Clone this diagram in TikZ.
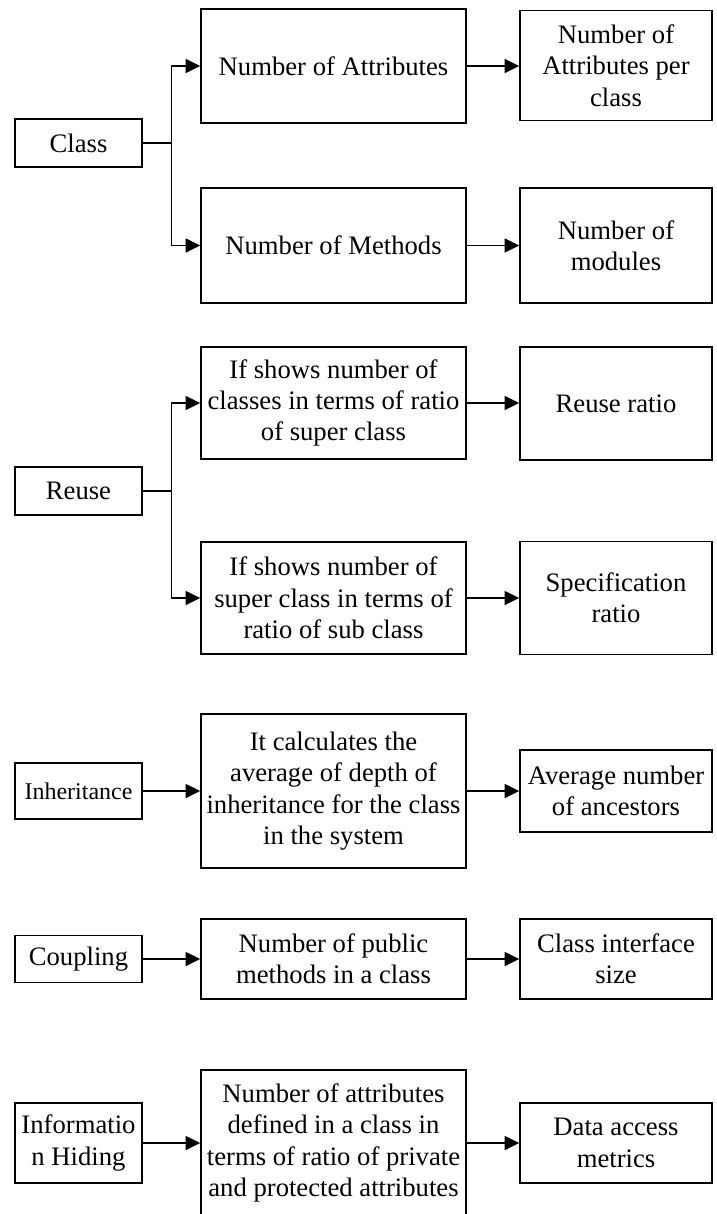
\documentclass[tikz,border=0pt]{standalone}
\usepackage{fontspec}
\setmainfont{Liberation Serif}
\usetikzlibrary{arrows.meta}
\tikzset{
  box/.style={draw, line width=1.1pt, align=center, inner sep=1pt,
    font=\fontsize{20}{23.5}\selectfont},
  lbox/.style={box, minimum width=95.25pt},
  mbox/.style={box, minimum width=198.75pt},
  rbox/.style={box, minimum width=144pt},
  link/.style={line width=1.1pt, -{Triangle[length=11pt,width=10.5pt]}},
}
\begin{document}
\begin{tikzpicture}[x=0.75pt,y=0.75pt,yscale=-1,xscale=1]
\useasboundingbox (0,0) rectangle (717,1214);

% Class
\node [lbox, minimum height=36pt] (cls) at (78.5,143) {Class};
\node [mbox, minimum height=85.5pt] (nattr) at (333.5,66) {Number of Attributes};
\node [rbox, minimum height=82.5pt] (attrper) at (616,65.5) {Number of\\Attributes per\\class};
\node [mbox, minimum height=86.25pt] (nmeth) at (333.5,245.5) {Number of Methods};
\node [rbox, minimum height=86.25pt] (nmod) at (616,245.5) {Number of\\modules};

% Reuse
\node [lbox, minimum height=36pt] (reuse) at (78.5,491) {Reuse};
\node [mbox, minimum height=84pt] (supcls) at (333.5,403) {If shows number of\\classes in terms of ratio\\of super class};
\node [rbox, minimum height=84.75pt] (reuserat) at (616,403.5) {Reuse ratio};
\node [mbox, minimum height=84pt] (subcls) at (333.5,598) {If shows number of\\super class in terms of\\ratio of sub class};
\node [rbox, minimum height=84.75pt] (specrat) at (616,598) {Specification\\ratio};

% Inheritance
\node [lbox, minimum height=42pt, font=\fontsize{18}{21}\selectfont] (inh) at (78.5,791) {Inheritance};
\node [mbox, minimum height=115.5pt] (depth) at (333.5,791) {It calculates the\\average of depth of\\inheritance for the class\\in the system};
\node [rbox, minimum height=61.5pt] (ances) at (616,791) {Average number\\of ancestors};

% Coupling
\node [lbox, minimum height=35.25pt] (coup) at (78.5,959) {Coupling};
\node [mbox, minimum height=60pt] (pubmeth) at (333.5,959) {Number of public\\methods in a class};
\node [rbox, minimum height=60pt] (iface) at (616,959) {Class interface\\size};

% Information Hiding
\node [lbox, minimum height=60pt] (info) at (78.5,1143) {Informatio\\n Hiding};
\node [mbox, minimum height=109.5pt] (privattr) at (333.5,1143) {Number of attributes\\defined in a class in\\terms of ratio of private\\and protected attributes};
\node [rbox, minimum height=60pt] (dataacc) at (616,1143) {Data access\\metrics};

% connectors
\draw [line width=1.1pt] (cls.east) -- ++(29,0) coordinate (clsfork);
\draw [link] (clsfork) |- (nattr.west);
\draw [link] (clsfork) |- (nmeth.west);
\draw [line width=1.1pt] (reuse.east) -- ++(29,0) coordinate (reusefork);
\draw [link] (reusefork) |- (supcls.west);
\draw [link] (reusefork) |- (subcls.west);
\draw [link] (inh) -- (depth);
\draw [link] (coup) -- (pubmeth);
\draw [link] (info) -- (privattr);

\draw [link] (nattr) -- (attrper.west |- nattr);
\draw [link] (nmeth) -- (nmod);
\draw [link] (supcls) -- (reuserat.west |- supcls);
\draw [link] (subcls) -- (specrat.west |- subcls);
\draw [link] (depth) -- (ances);
\draw [link] (pubmeth) -- (iface);
\draw [link] (privattr) -- (dataacc);

\end{tikzpicture}
\end{document}
